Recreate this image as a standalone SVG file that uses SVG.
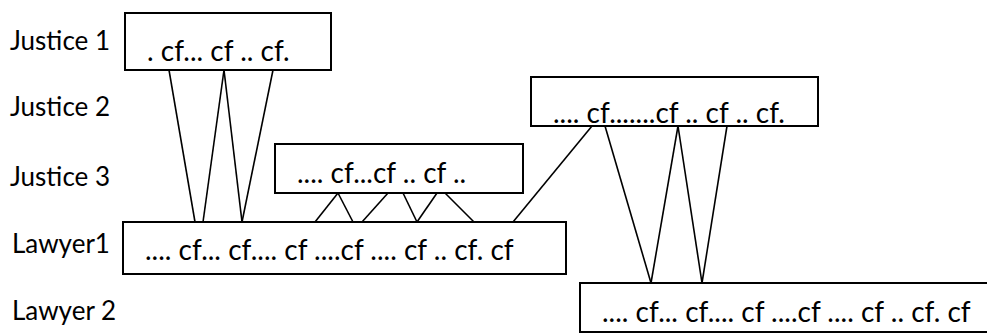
<svg xmlns="http://www.w3.org/2000/svg" width="987" height="333" viewBox="0 0 987 333">
<style>
text{font-family:Lato,"Open Sans","Liberation Sans",sans-serif;font-size:26px;fill:#000}
text.t{font-size:28px}
.box{fill:#fff;stroke:#000;stroke-width:2}
.c line{stroke:#000;stroke-width:1.6}
</style>
<rect width="987" height="333" fill="#fff"/>
<g id="labels">
<text x="10" y="50">Justice 1</text>
<text x="10" y="116">Justice 2</text>
<text x="10" y="186">Justice 3</text>
<text x="12" y="253">Lawyer1</text>
<text x="12" y="320">Lawyer 2</text>
</g>
<g id="justice1"><rect class="box" x="125" y="13" width="206" height="57"/><text class="t" x="147" y="61">. cf... cf .. cf.</text></g>
<g id="justice2"><rect class="box" x="531" y="77" width="287" height="49"/><text class="t" x="553" y="123">.... cf.......cf .. cf .. cf.</text></g>
<g id="justice3"><rect class="box" x="275" y="144" width="248" height="49"/><text class="t" x="297" y="183">.... cf...cf .. cf ..</text></g>
<g id="lawyer1"><rect class="box" x="123" y="222" width="443" height="52"/><text class="t" x="145" y="260">.... cf... cf.... cf ....cf .... cf .. cf. cf</text></g>
<g id="lawyer2"><rect class="box" x="580" y="283" width="420" height="49"/><text class="t" x="602" y="322">.... cf... cf.... cf ....cf .... cf .. cf. cf</text></g>
<g id="connectors" class="c">
<line x1="169" y1="70" x2="195" y2="222"/>
<line x1="224" y1="70" x2="203" y2="222"/>
<line x1="224" y1="70" x2="242" y2="222"/>
<line x1="273" y1="70" x2="242" y2="222"/>
<line x1="338" y1="193" x2="315" y2="222"/>
<line x1="338" y1="193" x2="353" y2="222"/>
<line x1="388" y1="193" x2="362" y2="222"/>
<line x1="403" y1="193" x2="417" y2="222"/>
<line x1="437" y1="193" x2="417" y2="222"/>
<line x1="445" y1="193" x2="474" y2="222"/>
<line x1="592" y1="126" x2="513" y2="222"/>
<line x1="605" y1="126" x2="651" y2="283"/>
<line x1="678" y1="126" x2="651" y2="283"/>
<line x1="678" y1="126" x2="702" y2="283"/>
<line x1="727" y1="126" x2="702" y2="283"/>
</g>
</svg>
